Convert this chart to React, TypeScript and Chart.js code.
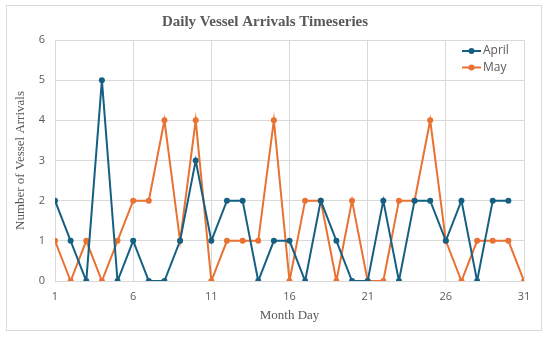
import React, { useEffect, useRef } from "react";
import { Chart, registerables } from "chart.js";

Chart.register(...registerables);

const days = [1, 2, 3, 4, 5, 6, 7, 8, 9, 10, 11, 12, 13, 14, 15, 16, 17, 18, 19, 20, 21, 22, 23, 24, 25, 26, 27, 28, 29, 30, 31];
const aprilValues = [2, 1, 0, 5, 0, 1, 0, 0, 1, 3, 1, 2, 2, 0, 1, 1, 0, 2, 1, 0, 0, 2, 0, 2, 2, 1, 2, 0, 2, 2];
const mayValues = [1, 0, 1, 0, 1, 2, 2, 4, 1, 4, 0, 1, 1, 1, 4, 0, 2, 2, 0, 2, 0, 0, 2, 2, 4, 1, 0, 1, 1, 1, 0];
const xTickValues = [1, 6, 11, 16, 21, 26, 31];
const seriesNames = ["April", "May"];
const seriesColors = ["#156082", "#E97132"];

const TEXT = "#595959";
const GRID = "#d9d9d9";
const SERIF = '"Liberation Serif", "DejaVu Serif", serif';
const SANS = '"Open Sans", "Noto Sans", sans-serif';

const borderPlugin = {
  id: "outerBorder",
  beforeDraw(chart: any) {
    const ctx = chart.ctx;
    ctx.save();
    ctx.fillStyle = "#ffffff";
    ctx.fillRect(0, 0, chart.width, chart.height);
    ctx.strokeStyle = GRID;
    ctx.lineWidth = 1;
    ctx.strokeRect(6.5, 5.5, 535, 325);
    ctx.restore();
  },
};

const legendPlugin = {
  id: "insideLegend",
  afterDraw(chart: any) {
    const ctx = chart.ctx;
    const area = chart.chartArea;
    ctx.save();
    chart.data.datasets.forEach((ds: any, i: number) => {
      const y = area.top + 11 + i * 16.5;
      const x0 = area.right - 62;
      ctx.strokeStyle = ds.borderColor;
      ctx.lineWidth = 2;
      ctx.beginPath();
      ctx.moveTo(x0, y);
      ctx.lineTo(x0 + 19, y);
      ctx.stroke();
      ctx.fillStyle = ds.borderColor;
      ctx.beginPath();
      ctx.arc(x0 + 9.5, y, 3, 0, Math.PI * 2);
      ctx.fill();
      ctx.fillStyle = TEXT;
      ctx.font = `12px ${SANS}`;
      ctx.textBaseline = "middle";
      ctx.textAlign = "left";
      ctx.fillText(ds.label, x0 + 21, y);
    });
    ctx.restore();
  },
};

export default function App() {
  const ref = useRef<HTMLCanvasElement | null>(null);

  useEffect(() => {
    if (!ref.current) return;
    const toPoints = (vals: number[]) => vals.map((v, i) => ({ x: days[i], y: v }));
    const chart = new Chart(ref.current, {
      type: "line",
      data: {
        datasets: [aprilValues, mayValues].map((vals, i) => ({
          label: seriesNames[i],
          data: toPoints(vals),
          borderColor: seriesColors[i],
          backgroundColor: seriesColors[i],
          borderWidth: 2,
          pointRadius: 3,
          pointHoverRadius: 3,
          pointBorderWidth: 0,
          tension: 0,
        })),
      },
      options: {
        animation: false,
        responsive: false,
        maintainAspectRatio: false,
        layout: { padding: { left: 6, right: 26, top: 0, bottom: 8 } },
        plugins: {
          legend: { display: false },
          tooltip: { enabled: false },
          title: {
            display: true,
            text: "Daily Vessel Arrivals Timeseries",
            color: TEXT,
            font: { family: SERIF, size: 15, weight: "bold" },
            padding: { top: 13, bottom: 9 },
          },
        },
        scales: {
          x: {
            type: "linear",
            min: 1,
            max: 31,
            afterBuildTicks: (scale: any) => {
              scale.ticks = xTickValues.map((v) => ({ value: v }));
            },
            afterFit: (scale: any) => {
              scale.height = 48;
            },
            grid: { color: GRID, drawTicks: false },
            border: { color: GRID },
            ticks: {
              color: TEXT,
              font: { family: SANS, size: 11 },
              padding: 9,
              autoSkip: false,
              maxRotation: 0,
            },
            title: {
              display: true,
              text: "Month Day",
              color: TEXT,
              font: { family: SERIF, size: 13 },
              padding: { top: 4, bottom: 6 },
            },
          },
          y: {
            min: 0,
            max: 6,
            afterFit: (scale: any) => {
              scale.width = 49;
            },
            grid: { color: GRID, drawTicks: false },
            border: { color: GRID },
            ticks: {
              stepSize: 1,
              color: TEXT,
              font: { family: SANS, size: 11 },
              padding: 10,
            },
            title: {
              display: true,
              text: "Number of Vessel Arrivals",
              color: TEXT,
              font: { family: SERIF, size: 13 },
              padding: { top: 7, bottom: 4 },
            },
          },
        },
      },
      plugins: [borderPlugin, legendPlugin],
    });
    return () => chart.destroy();
  }, []);

  return (
    <div style={{ position: "absolute", left: 0, top: 0, width: 550, height: 337 }}>
      <canvas ref={ref} width={550} height={337} style={{ width: 550, height: 337 }} />
    </div>
  );
}
